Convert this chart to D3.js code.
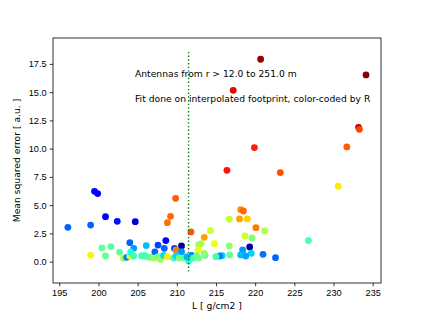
<!DOCTYPE html>
<meta charset="utf-8">
<html>
<style>
body { margin: 0; background: #fff; }
svg { font-family: "DejaVu Sans", sans-serif; }
.axis text { font-size: 9.2px; fill: #000; }
.axis path, .axis line { stroke: #000; stroke-width: 0.8px; }
</style>
<body>
<script src="https://cdnjs.cloudflare.com/ajax/libs/d3/7.8.5/d3.min.js"></script>
<script>
	// L [g/cm2], mean squared error, antenna radius R [m]
	var L = [196.1, 199.0, 199.5, 199.9, 200.9, 202.4, 204.7, 209.85, 209.2, 208.8, 211.8, 216.4, 217.2, 220.7, 219.9, 223.2, 230.6, 231.7, 233.2, 233.3, 234.15, 226.8, 222.6, 221.0, 219.3, 218.15, 218.5, 218.0, 219.0, 220.1, 216.7, 221.2, 218.7, 219.6, 214.3, 213.5, 214.8, 216.7, 213.1, 212.8, 212.7, 218.4, 219.5, 218.15, 218.8, 216.75, 215.8, 215.5, 215.0, 213.6, 213.5,
		199.0, 200.45, 200.9, 201.6, 202.7, 204.0, 204.5, 206.1, 207.6, 208.6, 208.4, 207.2, 209.7, 210.6, 209.9, 210.6, 203.2, 203.6, 204.0, 204.1, 204.5, 205.5, 206.1, 206.6, 207.1, 207.6, 207.9, 208.3, 208.8, 209.6, 209.9, 210.3, 210.9, 211.5, 211.9, 212.1, 212.8, 205.9, 212.5, 211.3];
	var mse = [3.04, 3.24, 6.22, 6.02, 3.98, 3.57, 3.54, 5.60, 4.01, 3.45, 2.63, 8.08, 15.16, 17.91, 10.09, 7.88, 6.67, 10.15, 11.89, 11.71, 16.52, 1.86, 0.35, 0.65, 1.30, 4.60, 4.48, 3.78, 3.78, 3.01, 3.75, 2.71, 2.27, 2.09, 2.74, 2.15, 1.59, 1.39, 1.59, 1.50, 1.03, 1.03, 0.74, 0.59, 0.50, 0.59, 0.53, 0.50, 0.44, 0.56, 0.74,
		0.56, 1.21, 0.50, 1.33, 0.83, 1.68, 1.18, 1.42, 1.47, 1.86, 1.18, 0.86, 1.18, 1.39, 1.03, 0.88, 0.29, 0.38, 0.50, 0.83, 0.50, 0.50, 0.44, 0.38, 0.32, 0.44, 0.20, 0.56, 0.44, 0.32, 0.50, 0.32, 0.32, 0.05, 0.56, 0.32, 0.32, 0.56, 0.50, 0.44];
	var R = [65, 65, 43, 41, 41, 45, 29, 206, 203, 201, 208, 225, 229, 246, 222, 210, 170, 206, 239, 213, 249, 117, 65, 69, 19, 194, 203, 189, 177, 198, 153, 146, 155, 134, 155, 189, 165, 136, 146, 143, 163, 77, 91, 86, 81, 124, 93, 72, 115, 124, 136,
		167, 124, 124, 120, 124, 65, 79, 86, 57, 36, 65, 65, 57, 14, 198, 77, 143, 72, 160, 105, 115, 115, 132, 124, 143, 124, 143, 93, 170, 115, 93, 132, 124, 105, 72, 115, 132, 115, 124, 84];

	var xTicks = [195, 200, 205, 210, 215, 220, 225, 230, 235];
	var yTicks = [0, 2.5, 5, 7.5, 10, 12.5, 15, 17.5];
	var lineL = 211.5;
	var lineSpan = [-0.88, 18.65];
	var notes = ["Antennas from r > 12.0 to 251.0 m", "Fit done on interpolated footprint, color-coded by R"];

	var width = 423, height = 318;
	var margin = {left: 53, right: 42, top: 38, bottom: 35};

	var svg = d3.select("body").append("svg")
		.attr("width", width)
		.attr("height", height);

	var x = d3.scaleLinear().domain([194.2, 236.06]).range([margin.left, width - margin.right]);
	var y = d3.scaleLinear().domain([-1.89, 19.79]).range([height - margin.bottom, margin.top]);

	// matplotlib "jet"
	var jetR = d3.scaleLinear().domain([0, 0.35, 0.66, 0.89, 1]).range([0, 0, 1, 1, 0.5]).clamp(true);
	var jetG = d3.scaleLinear().domain([0, 0.125, 0.375, 0.64, 0.91, 1]).range([0, 0, 1, 1, 0, 0]).clamp(true);
	var jetB = d3.scaleLinear().domain([0, 0.11, 0.34, 0.65, 1]).range([0.5, 1, 1, 0, 0]).clamp(true);
	var norm = d3.scaleLinear().domain([12, 251]).range([0, 1]);
	function jet(r) {
		var t = norm(r);
		return d3.rgb(255 * jetR(t), 255 * jetG(t), 255 * jetB(t)).toString();
	}

	var pts = L.map(function(d, i) { return {L: d, mse: mse[i], R: R[i]}; });

	svg.append("g")
		.selectAll("circle")
		.data(pts)
		.enter()
		.append("circle")
		.attr("cx", d => x(d.L))
		.attr("cy", d => y(d.mse))
		.attr("r", 3.4)
		.attr("fill", d => jet(d.R));

	svg.append("line")
		.attr("x1", x(lineL)).attr("x2", x(lineL))
		.attr("y1", y(lineSpan[0])).attr("y2", y(lineSpan[1]))
		.attr("stroke", "#008000")
		.attr("stroke-width", 1.4)
		.attr("stroke-dasharray", "1.4,2.3");

	svg.selectAll(".note")
		.data(notes)
		.enter()
		.append("text")
		.attr("class", "note")
		.attr("x", 135)
		.attr("y", (d, i) => 77 + i * 24.5)
		.attr("font-size", "9.2px")
		.text(d => d);

	svg.append("g")
		.attr("class", "axis")
		.attr("transform", "translate(0," + (height - margin.bottom) + ")")
		.call(d3.axisBottom(x).tickValues(xTicks).tickFormat(d3.format("d")).tickSize(3.2).tickPadding(3.2))
		.call(g => g.select(".domain").remove());

	svg.append("g")
		.attr("class", "axis")
		.attr("transform", "translate(" + margin.left + ",0)")
		.call(d3.axisLeft(y).tickValues(yTicks).tickFormat(d3.format(".1f")).tickSize(3.2).tickPadding(3.2))
		.call(g => g.select(".domain").remove());

	svg.append("rect")
		.attr("x", margin.left)
		.attr("y", margin.top)
		.attr("width", width - margin.left - margin.right)
		.attr("height", height - margin.top - margin.bottom)
		.attr("fill", "none")
		.attr("stroke", "#000")
		.attr("stroke-width", 0.8);

	svg.append("text")
		.attr("x", (margin.left + width - margin.right) / 2)
		.attr("y", 309)
		.attr("text-anchor", "middle")
		.attr("font-size", "9.2px")
		.text("L [ g/cm2 ]");

	svg.append("text")
		.attr("transform", "translate(20," + ((margin.top + height - margin.bottom) / 2) + ") rotate(-90)")
		.attr("text-anchor", "middle")
		.attr("font-size", "9.2px")
		.text("Mean squared error [ a.u. ]");
</script>
</body>
</html>
